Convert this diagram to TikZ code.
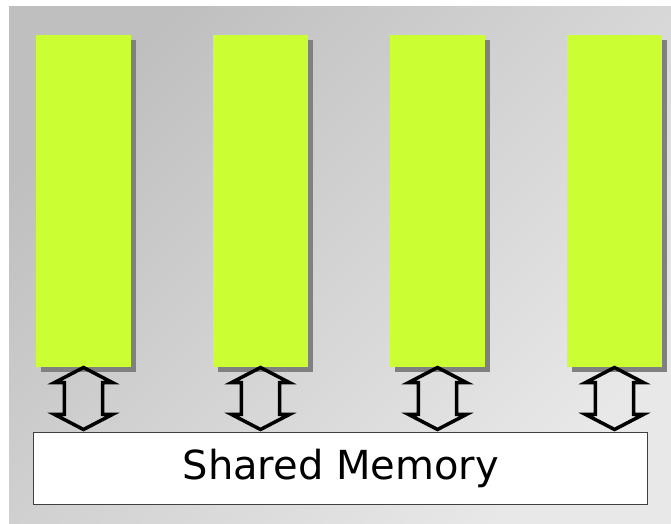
\documentclass[tikz,border=0pt]{standalone}
\usepackage{fontspec}
\setmainfont{DejaVu Sans}
\usetikzlibrary{shapes.arrows,shadows}

\definecolor{procgreen}{HTML}{CCFF33}
\definecolor{shadowgray}{HTML}{808080}
\definecolor{framegray}{HTML}{404040}

\begin{document}
\begin{tikzpicture}[
    node distance=177pt,
    proc/.style={rectangle, fill=procgreen, inner sep=0pt,
        minimum width=95pt, minimum height=332pt,
        drop shadow={shadow xshift=5pt, shadow yshift=-5pt, fill=shadowgray, opacity=1}},
    bus/.style={double arrow, draw, line width=3.5pt, shape border rotate=90, inner sep=14pt,
        minimum height=62pt, minimum width=58pt,
        double arrow head extend=8pt, double arrow tip angle=125,
        node distance=197.5pt},
    memory/.style={rectangle, draw=framegray, fill=white, line width=1pt,
        minimum width=614pt, minimum height=72pt, font=\fontsize{40}{48}\selectfont}
]
    % Canvas and backdrop
    \useasboundingbox (0pt,0pt) rectangle (671pt,523pt);
    \shade[top color=black!25, bottom color=black!9, shading angle=45]
        (9pt,0pt) rectangle (671pt,516pt);

    % Processors
    \node [proc] at (83.5pt,322pt) (proc1) {};
    \node [proc, right of=proc1] (proc2) {};
    \node [proc, right of=proc2] (proc3) {};
    \node [proc, right of=proc3] (proc4) {};

    % Memory
    \node [memory] at (340.75pt,55pt) (mem) {Shared Memory};

    % Bus links
    \node [bus, below of=proc1] (bus1) {};
    \node [bus, below of=proc2] (bus2) {};
    \node [bus, below of=proc3] (bus3) {};
    \node [bus, below of=proc4] (bus4) {};
\end{tikzpicture}
\end{document}
